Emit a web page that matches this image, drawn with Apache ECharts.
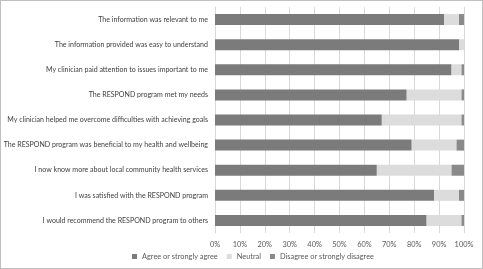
<!DOCTYPE html>
<html lang="en">
<head>
    <meta charset="UTF-8">
    <title>RESPOND survey</title>
    <script type="text/javascript" src="https://cdn.jsdelivr.net/npm/echarts@6/dist/echarts.min.js"></script>
    <style>
        html, body { margin: 0; padding: 0; background: #fff; }
        #main { width: 481px; height: 267px; border: 1px solid #bfbfbf; }
    </style>
</head>
<body>
<div id="main"></div>
<script>
    var statements = [
        'The information was relevant to me',
        'The information provided was easy to understand',
        'My clinician paid attention to issues important to me',
        'The RESPOND program met my needs',
        'My clinician helped me overcome difficulties with achieving goals',
        'The RESPOND program was beneficial to my health and wellbeing',
        'I now know more about local community health services',
        'I was satisfied with the RESPOND program',
        'I would recommend the RESPOND program to others'
    ];
    var agree    = [92, 98, 95, 77, 67, 79, 65, 88, 85];
    var neutral  = [6,  2,  4,  22, 32, 18, 30, 10, 14];
    var disagree = [2,  0,  1,  1,  1,  3,  5,  2,  1];
    var seriesNames = ['Agree or strongly agree', 'Neutral', 'Disagree or strongly disagree'];

    var myChart = echarts.init(document.getElementById('main'));
    var font = 'Lato, "Liberation Sans", sans-serif';

    myChart.setOption({
        animation: false,
        textStyle: { fontFamily: font },
        grid: { left: 214, right: 18, top: 6, bottom: 35, outerBoundsMode: 'none' },
        legend: {
            bottom: 3,
            left: 126,
            itemWidth: 5,
            itemHeight: 5,
            itemGap: 9,
            icon: 'rect',
            textStyle: { fontSize: 7.4, color: '#595959', fontFamily: font },
            data: seriesNames
        },
        xAxis: {
            type: 'value',
            min: 0,
            max: 100,
            interval: 10,
            axisLabel: { formatter: '{value}%', fontSize: 7.4, color: '#595959', margin: 8 },
            splitLine: { show: true, lineStyle: { color: '#d9d9d9' } },
            axisLine: { show: false },
            axisTick: { show: false }
        },
        yAxis: {
            type: 'category',
            inverse: true,
            data: statements,
            axisLabel: { fontSize: 7.05, color: '#404040', margin: 7 },
            axisLine: { show: true, lineStyle: { color: '#d9d9d9' } },
            axisTick: { show: false }
        },
        series: [
            {
                name: seriesNames[0], type: 'bar', stack: 'all', barWidth: 11, data: agree,
                itemStyle: { color: '#7b7b7b' }
            },
            {
                name: seriesNames[1], type: 'bar', stack: 'all', data: neutral,
                itemStyle: { color: '#dcdcdc' }
            },
            {
                name: seriesNames[2], type: 'bar', stack: 'all', data: disagree,
                itemStyle: { color: '#8a8a8a' }
            }
        ]
    });
</script>
</body>
</html>
